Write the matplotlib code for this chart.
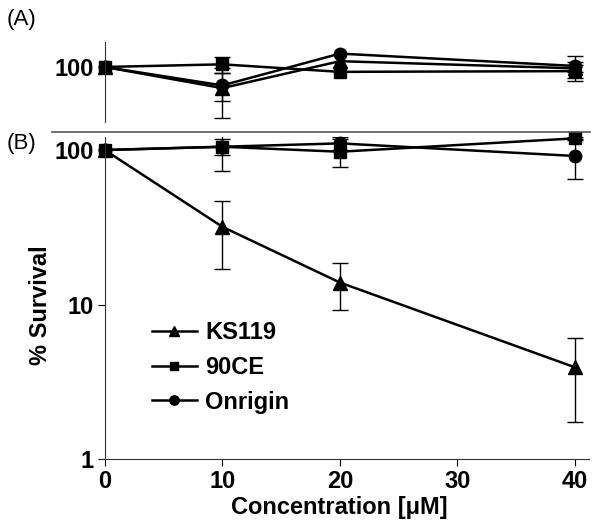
import numpy as np
import matplotlib
matplotlib.use("Agg")
import matplotlib.pyplot as plt
from matplotlib.lines import Line2D
from matplotlib.ticker import NullLocator

plt.rcParams['font.family'] = ['Liberation Sans', 'DejaVu Sans']
plt.rcParams['font.weight'] = 'bold'
plt.rcParams['axes.labelweight'] = 'bold'

# concentrations (uM)
conc = [0, 10, 20, 40]

# panel A
ks119_a = [100, 73, 109, 98]
ks119_a_err = [0, 26, 0, 5]
ce90_a = [100, 104, 93, 94]
ce90_a_err = [0, 12, 0, 13]
onrigin_a = [100, 76, 122, 101.5]
onrigin_a_err = [0, 16, 0, 16]

# panel B
ks119_b = [100, 31.9, 13.9, 3.93]
ks119_b_err = [0, 14.8, 4.6, 2.2]
ce90_b = [100, 105, 97.5, 119]
ce90_b_err = [0, 12, 20, 3]
onrigin_b = [100, 105, 110.4, 91.5]
onrigin_b_err = [0, 32, 11, 27]

labels = ['KS119', '90CE', 'Onrigin']
markers = ['^', 's', 'o']
msizes = [10, 8, 9]

W, H = 600, 532
fig = plt.figure(figsize=(W / 100, H / 100), dpi=100)

xl = (-0.4, 41.2)
axB = fig.add_axes([100 / W, 1 - 459.3 / H, 489.2 / W, (459.3 - 137) / H])
axA = fig.add_axes([100 / W, 1 - 122 / H, 489.2 / W, 80 / H])


def draw(ax, series, errs):
    hs = []
    for y, e, m, ms, lab in zip(series, errs, markers, msizes, labels):
        e = np.array(e, dtype=float)
        keep = e > 0
        ax.errorbar(np.array(conc)[keep], np.array(y)[keep], yerr=e[keep], fmt='none',
                    ecolor='black', elinewidth=1, capsize=6, capthick=1)
        h, = ax.plot(conc, y, marker=m, ms=ms, color='black', lw=1.8,
                     label=lab, clip_on=False)
        hs.append(h)
    return hs


# ---- panel A
draw(axA, [ks119_a, ce90_a, onrigin_a], [ks119_a_err, ce90_a_err, onrigin_a_err])
axA.set_yscale('log')
axA.set_xlim(*xl)
axA.set_ylim(44.1, 145)
axA.set_yticks([100])
axA.set_yticklabels(['100'])
axA.yaxis.set_minor_locator(NullLocator())
axA.set_xticks([])
for s in ['top', 'right', 'bottom']:
    axA.spines[s].set_visible(False)
axA.spines['left'].set_position(('data', 0))
axA.spines['left'].set_color('#333333')
axA.tick_params(axis='y', labelsize=17, length=5, pad=3)

# ---- panel B
hs = draw(axB, [ks119_b, ce90_b, onrigin_b], [ks119_b_err, ce90_b_err, onrigin_b_err])
axB.set_yscale('log')
axB.set_xlim(*xl)
axB.set_ylim(1, 121.4)
axB.set_yticks([1, 10, 100])
axB.set_yticklabels(['1', '10', '100'])
axB.yaxis.set_minor_locator(NullLocator())
axB.set_xticks([0, 10, 20, 30, 40])
for s in ['top', 'right']:
    axB.spines[s].set_visible(False)
axB.spines['left'].set_position(('data', 0))
for s in ['left', 'bottom']:
    axB.spines[s].set_color('#333333')
axB.tick_params(labelsize=17, length=5, pad=3)

axB.set_xlabel('Concentration [μM]', fontsize=17)
axB.xaxis.set_label_coords(0.49, -0.114)
axB.set_ylabel('% Survival', fontsize=17)
axB.yaxis.set_label_coords(-0.098, 0.479)

axB.legend(handles=hs, loc='upper left', bbox_to_anchor=(152 / W, 1 - 321 / H),
           bbox_transform=fig.transFigure, frameon=False, fontsize=17,
           borderpad=0, borderaxespad=0, handlelength=1.9, handletextpad=0.35,
           labelspacing=0.5, markerscale=0.75)

# separator between the panels
fig.add_artist(Line2D([52 / W, 590 / W], [1 - 131.7 / H] * 2, color='#555555', lw=1.2))

fig.text(7 / W, 1 - 20 / H, '(A)', fontsize=16, fontweight='normal', va='center')
fig.text(7 / W, 1 - 144 / H, '(B)', fontsize=16, fontweight='normal', va='center')

fig.savefig('out.png', dpi=100)
